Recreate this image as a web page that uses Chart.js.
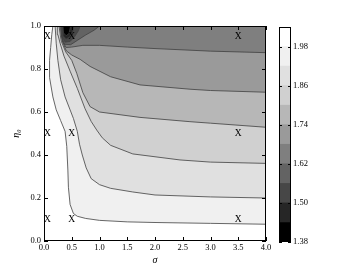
<!DOCTYPE html>
<html><head><meta charset="utf-8">
<script src="https://cdn.jsdelivr.net/npm/chart.js@4.4.1/dist/chart.umd.min.js"></script>
<style>
html,body{margin:0;padding:0;background:#fff;}
#wrap{position:relative;width:357px;height:269px;}
#main{position:absolute;left:0;top:0;}
#cbar{position:absolute;left:270px;top:0;}
</style></head>
<body>
<div id="wrap"><canvas id="main" width="357" height="269"></canvas><canvas id="cbar" width="87" height="269"></canvas></div>
<script>
// ---- data ----
const levels = [1.38,1.44,1.50,1.56,1.62,1.68,1.74,1.80,1.86,1.92,1.98,2.04];
const bandGray = [0,38,71,99,127,154,183,208,224,240,255];
const colorbarTicks = [1.38,1.50,1.62,1.74,1.86,1.98];
const sigmaRange = [0,4];
const etaRange = [0,1];
// contour lines [sigma, eta], from right edge toward top edge
const c198 = [[4,0.078],[3,0.082],[2,0.086],[1.5,0.089],[1.0,0.096],[0.75,0.105],[0.6,0.115],[0.53,0.128],[0.47,0.17],[0.44,0.25],[0.43,0.33],[0.41,0.44],[0.38,0.51],[0.3,0.56],[0.22,0.61],[0.16,0.67],[0.1,0.76],[0.1,0.84],[0.12,0.9],[0.14,0.96],[0.16,1.0]];
const c192 = [[4,0.2],[3,0.205],[2,0.214],[1.6,0.228],[1.2,0.245],[1.0,0.262],[0.85,0.29],[0.76,0.34],[0.69,0.4],[0.64,0.45],[0.6,0.51],[0.53,0.57],[0.47,0.61],[0.38,0.67],[0.3,0.75],[0.25,0.84],[0.22,0.92],[0.2,1.0]];
const c186 = [[4,0.361],[3,0.367],[2.45,0.377],[1.6,0.405],[1.2,0.445],[1.05,0.48],[0.95,0.516],[0.85,0.556],[0.74,0.615],[0.6,0.71],[0.47,0.79],[0.36,0.86],[0.29,0.92],[0.25,0.96],[0.24,1.0]];
const c180 = [[4,0.529],[3,0.548],[2.63,0.555],[1.73,0.575],[1.0,0.6],[0.83,0.625],[0.7,0.69],[0.59,0.78],[0.5,0.84],[0.39,0.88],[0.31,0.93],[0.27,1.0]];
const c174 = [[4,0.692],[3,0.7],[2.63,0.706],[1.73,0.726],[1.2,0.764],[0.83,0.812],[0.65,0.845],[0.5,0.865],[0.4,0.885],[0.33,0.93],[0.29,1.0]];
const c168 = [[4,0.876],[3,0.883],[2,0.895],[1.5,0.902],[1.0,0.91],[0.7,0.91],[0.5,0.902],[0.4,0.9],[0.34,0.925],[0.31,0.965],[0.305,1.0]];
// closed loops around the dark spot at the top edge
const c162 = [[0.315,1.0],[0.325,0.945],[0.37,0.915],[0.48,0.913],[0.6,0.933],[0.75,0.958],[0.9,0.98],[1.0,1.0]];
const c156 = [[0.32,1.0],[0.33,0.95],[0.38,0.925],[0.47,0.928],[0.55,0.95],[0.62,0.978],[0.65,1.0]];
const c150 = [[0.325,1.0],[0.34,0.955],[0.4,0.94],[0.47,0.95],[0.52,0.975],[0.54,1.0]];
const c144 = [[0.33,1.0],[0.35,0.968],[0.4,0.955],[0.45,0.965],[0.48,1.0]];
// "X" markers
const markerSigma = [0.06,0.5,3.5];
const markerEta = [0.1,0.5,0.953];
const xTicks = [0,0.5,1,1.5,2,2.5,3,3.5,4];
const yTicks = [0,0.2,0.4,0.6,0.8,1.0];

// ---- helpers ----
function bandColor(i){ const g=bandGray[i]; return `rgb(${g},${g},${g})`; }
const pts = a => a.map(p=>({x:p[0],y:p[1]}));
const S0=sigmaRange[0],S1=sigmaRange[1],E0=etaRange[0],E1=etaRange[1];
function lowerLeft(c){ return pts([[S0,E0],[S0,E1]].concat(c.slice().reverse()).concat([[S1,E0]])); }

const fills = [
 {data: pts([[S0,E0],[S0,E1],[S1,E1],[S1,E0]]), band:4},
 {data: lowerLeft(c168), band:5},
 {data: lowerLeft(c174), band:6},
 {data: lowerLeft(c180), band:7},
 {data: lowerLeft(c186), band:8},
 {data: lowerLeft(c192), band:9},
 {data: lowerLeft(c198), band:10},
 {data: pts(c162), band:3},
 {data: pts(c156), band:2},
 {data: pts(c150), band:1},
 {data: pts(c144), band:0},
];
const contours = [c198,c192,c186,c180,c174,c168,c162,c156,c150,c144];

const datasets = [];
fills.forEach((f,k)=>datasets.push({data:f.data, fill:'shape', backgroundColor:bandColor(f.band),
  borderColor:'rgba(0,0,0,0)', borderWidth:0, pointRadius:0, tension:0, order:100-k}));
contours.forEach(c=>datasets.push({data:pts(c), fill:false, borderColor:'#404040', borderWidth:0.8,
  pointRadius:0, tension:0, order:0}));

const serif = "'Liberation Serif','DejaVu Serif',serif";
const tickFont = {family:serif, size:8.5};

const decor = {
  id:'decor',
  afterDatasetsDraw(chart){
    const ctx=chart.ctx, a=chart.chartArea, xs=chart.scales.x, ys=chart.scales.y;
    ctx.save();
    ctx.strokeStyle='#000'; ctx.lineWidth=1;
    ctx.beginPath();
    xs.ticks.forEach(t=>{ const px=Math.round(xs.getPixelForValue(t.value))+0.5;
      ctx.moveTo(px,a.bottom); ctx.lineTo(px,a.bottom-4); ctx.moveTo(px,a.top); ctx.lineTo(px,a.top+4); });
    ys.ticks.forEach(t=>{ const py=Math.round(ys.getPixelForValue(t.value))+0.5;
      ctx.moveTo(a.left,py); ctx.lineTo(a.left+4,py); ctx.moveTo(a.right,py); ctx.lineTo(a.right-4,py); });
    ctx.stroke();
    ctx.strokeRect(Math.round(a.left)+0.5, Math.round(a.top)+0.5, Math.round(a.right-a.left)-1, Math.round(a.bottom-a.top)-1);
    ctx.fillStyle='#000'; ctx.font="9.5px "+serif; ctx.textAlign='center'; ctx.textBaseline='middle';
    markerSigma.forEach(s=>markerEta.forEach(e=>{ ctx.fillText('X', xs.getPixelForValue(s), ys.getPixelForValue(e)); }));
    ctx.restore();
  }
};

new Chart(document.getElementById('main'), {
  type:'line',
  data:{datasets},
  options:{
    responsive:false, animation:false, devicePixelRatio:1,
    layout:{padding:{left:0,right:91,top:26,bottom:0}},
    plugins:{legend:{display:false}, tooltip:{enabled:false}, filler:{drawTime:'beforeDatasetsDraw', propagate:false}},
    scales:{
      x:{type:'linear', min:S0, max:S1,
         afterBuildTicks:s=>{s.ticks=xTicks.map(v=>({value:v}));},
         ticks:{font:tickFont, color:'#000', padding:2, maxRotation:0, callback:v=>Number(v).toFixed(1)},
         grid:{display:false, drawTicks:false}, border:{display:false},
         title:{display:true, text:'σ', color:'#000', font:{family:serif, size:10, style:'italic'}, padding:{top:0,bottom:3}},
         afterFit:s=>{s.height=28;}},
      y:{type:'linear', min:E0, max:E1,
         afterBuildTicks:s=>{s.ticks=yTicks.map(v=>({value:v}));},
         ticks:{font:tickFont, color:'#000', padding:3, callback:v=>Number(v).toFixed(1)},
         grid:{display:false, drawTicks:false}, border:{display:false},
         title:{display:true, text:'η₀', color:'#000', font:{family:serif, size:10, style:'italic'}, padding:{top:10,bottom:0}},
         afterFit:s=>{s.width=44;}}
    }
  },
  plugins:[decor]
});

// ---- colorbar ----
const cbBands = levels.slice(0,-1).map((lo,i)=>[lo,levels[i+1]]);
const cbFrame = {
  id:'cbFrame',
  afterDatasetsDraw(chart){
    const ctx=chart.ctx, a=chart.chartArea, ys=chart.scales.y;
    ctx.save(); ctx.strokeStyle='#000'; ctx.lineWidth=1;
    ctx.strokeRect(Math.round(a.left)+0.5, Math.round(a.top)+0.5, Math.round(a.right-a.left)-1, Math.round(a.bottom-a.top)-1);
    ctx.beginPath();
    ys.ticks.forEach(t=>{ const py=Math.round(ys.getPixelForValue(t.value))+0.5;
      ctx.moveTo(a.right,py); ctx.lineTo(a.right-3,py); ctx.moveTo(a.left,py); ctx.lineTo(a.left+3,py);});
    ctx.stroke(); ctx.restore();
  }
};
new Chart(document.getElementById('cbar'), {
  type:'bar',
  data:{labels:[''], datasets: cbBands.map((b,i)=>({data:[b], backgroundColor:bandColor(i), borderWidth:0,
     barPercentage:1, categoryPercentage:1, grouped:false}))},
  options:{
    responsive:false, animation:false, devicePixelRatio:1,
    layout:{padding:{left:9,right:0,top:27,bottom:27}},
    plugins:{legend:{display:false}, tooltip:{enabled:false}},
    scales:{
      x:{display:false},
      y:{position:'right', min:levels[0], max:levels[levels.length-1],
         afterBuildTicks:s=>{s.ticks=colorbarTicks.map(v=>({value:v}));},
         ticks:{font:tickFont, color:'#000', padding:2, callback:v=>Number(v).toFixed(2)},
         grid:{display:false, drawTicks:false}, border:{display:false},
         afterFit:s=>{s.width=66;}}
    }
  },
  plugins:[cbFrame]
});
</script>
</body></html>
